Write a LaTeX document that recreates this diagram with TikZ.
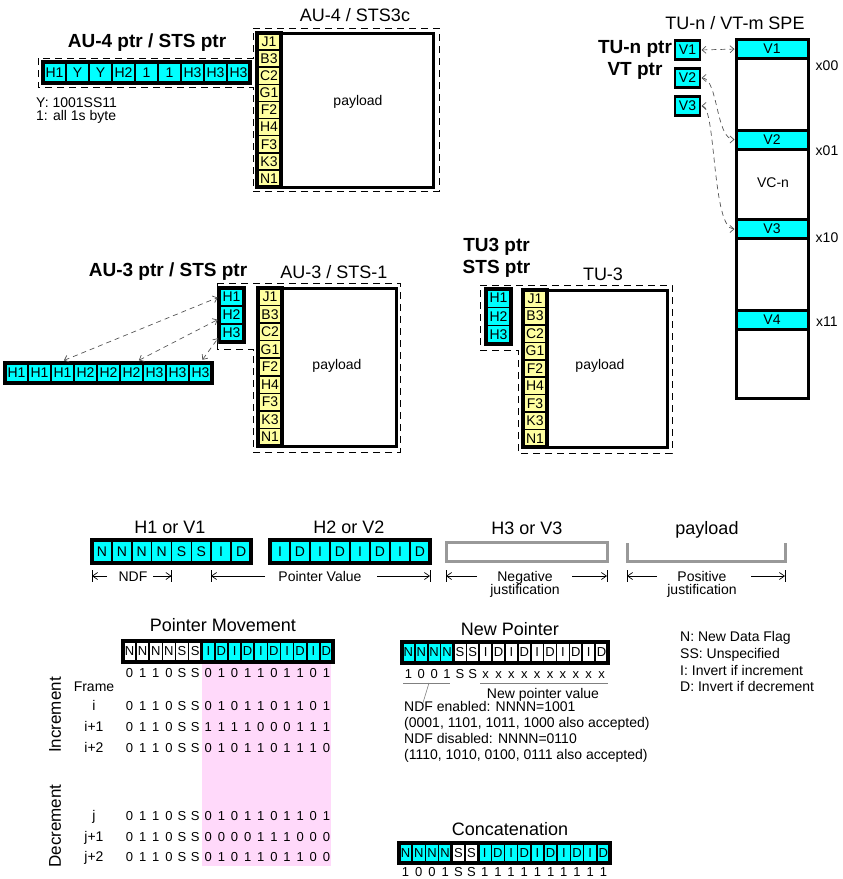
\documentclass[tikz,border=0pt]{standalone}
\usepackage{fontspec}
\setmainfont{Liberation Sans}
\usetikzlibrary{positioning,arrows.meta,calc}

\definecolor{ptrcyan}{RGB}{0,255,255}
\definecolor{ohyellow}{RGB}{255,255,160}
\definecolor{movepink}{RGB}{255,217,250}
\definecolor{justgray}{RGB}{153,153,153}
\definecolor{linkgray}{RGB}{85,85,85}

\newcommand{\ttlfont}{\fontsize{18}{21}\selectfont}
\newcommand{\bttlfont}{\fontsize{19}{21.5}\selectfont\bfseries}
\newcommand{\labfont}{\fontsize{14}{16}\selectfont}
\newcommand{\bitsfont}{\fontsize{13}{14}\selectfont}
\newcommand{\dimfont}{\fontsize{14}{12.5}\selectfont\lineskiplimit=-20pt}
\newcommand{\rowsidefont}{\fontsize{17}{18}\selectfont}

% row of cells: #1 name, #2 left x, #3 middle y, #4 cell width, #5 cell height, #6 fill/label
\newcommand{\cellrow}[6]{%
  \foreach [count=\k] \cfill/\clabel in {#6}{
    \node[cell,fill=\cfill,minimum width=#4pt,minimum height=#5pt]
      (#1-\k) at ({#2+(\k-0.5)*#4},#3) {\clabel};
  }%
}
% column of cells: #1 name, #2 middle x, #3 top y, #4 cell width, #5 cell height, #6 fill/label
\newcommand{\cellcol}[6]{%
  \foreach [count=\k] \cfill/\clabel in {#6}{
    \node[cell,fill=\cfill,minimum width=#4pt,minimum height=#5pt]
      (#1-\k) at (#2,{#3+(\k-0.5)*#5}) {\clabel};
  }%
}
% bits under a row of cells: #1 name, #2 left x, #3 cell width, #4 baseline y, #5 bits
\newcommand{\bitrow}[5]{%
  \foreach [count=\k] \clabel in {#5}{
    \node[bit] (#1-\k) at ({#2+(\k-0.5)*#3},#4) {\clabel};
  }%
}

\begin{document}
\begin{tikzpicture}[
  x=1pt,y=-1pt,
  every node/.style={font=\labfont,inner sep=0pt},
  cell/.style={draw=black,line width=1.6pt,outer sep=0pt,font=\labfont},
  bit/.style={anchor=base,font=\bitsfont},
  outerline/.style={draw=black,line width=3.2pt},
  plbox/.style={draw=black,line width=3pt,outer sep=0pt,anchor=north west},
  ttl/.style={anchor=base,font=\ttlfont},
  boldttl/.style={anchor=base,font=\bttlfont,align=center},
  frameline/.style={line width=1pt,dash pattern=on 7pt off 5pt},
  linkarrow/.style={linkgray,line width=0.7pt,dash pattern=on 5pt off 4pt,
    shorten <=1.5pt,shorten >=1.5pt,
    {Straight Barb[length=4pt,width=7pt]}-{Straight Barb[length=4pt,width=7pt]}},
  dimarrow/.style={line width=0.7pt,-{Straight Barb[length=5pt,width=7pt]}},
  dimtick/.style={line width=0.8pt},
  justline/.style={justgray,line width=3pt},
  thinline/.style={gray,line width=0.6pt}
]
\useasboundingbox (0,0) rectangle (843,879);

% ---------------- AU-4 / STS3c ----------------
\draw[frameline] (253,28) -- (439,28) -- (439,191) -- (253,191) -- (253,87)
  -- (38,87) -- (38,58) -- (253,58) -- cycle;
\node[boldttl] (au4ptrttl) at (147,47) {AU-4 ptr / STS ptr};
\cellrow{au4p}{43}{72.5}{23}{21}{ptrcyan/H1,ptrcyan/Y,ptrcyan/Y,ptrcyan/H2,ptrcyan/1,ptrcyan/1,ptrcyan/H3,ptrcyan/H3,ptrcyan/H3}
\draw[outerline] (au4p-1.north west) rectangle (au4p-9.south east);
\node[anchor=base west] (au4ykey) at (36,107) {Y: 1001SS11};
\node[anchor=base west] (au4onekey) at (36,120) {1: all 1s byte};

\node[ttl] (au4ttl) at (355,21) {AU-4 / STS3c};
\cellcol{au4oh}{269}{33}{24}{17.11}{ohyellow/J1,ohyellow/B3,ohyellow/C2,ohyellow/G1,ohyellow/F2,ohyellow/H4,ohyellow/F3,ohyellow/K3,ohyellow/N1}
\draw[outerline] (au4oh-1.north west) rectangle (au4oh-9.south east);
\node[plbox,minimum width=152pt,minimum height=154pt] (au4pl) at (au4oh-1.north east) {};
\node[anchor=base] (au4pltxt) at (358,105) {payload};

% ---------------- TU-n / VT-m SPE ----------------
\node[ttl] (spettl) at (735,29) {TU-n / VT-m SPE};
\node[boldttl] (tunptr) at (635,75) {TU-n ptr\\VT ptr};
\foreach \k/\yy in {1/50,2/78,3/106}
  \node[cell,fill=ptrcyan,line width=2.6pt,minimum width=25pt,minimum height=19pt]
    (vs\k) at (687.5,\yy) {V\k};
\node[plbox,minimum width=72pt,minimum height=359pt] (spe) at (736,39) {};
\foreach \k/\yy in {1/49,2/139.5,3/229,4/319.5}
  \node[cell,fill=ptrcyan,line width=3pt,minimum width=72pt,minimum height=19pt]
    (vb\k) at (772,\yy) {V\k};
\node[anchor=base] (vcn) at (773,187) {VC-n};
\foreach \k/\lbl/\yy in {1/x00/70,2/x01/155,3/x10/242,4/x11/326}
  \node[anchor=base] (off\k) at (827,\yy) {\lbl};
\draw[linkarrow] (vs1.east) -- (vb1.west);
\draw[linkarrow] (vs2.east) .. controls +(18,0) and +(-20,0) .. (vb2.west);
\draw[linkarrow] (vs3.east) .. controls +(16,0) and +(-24,0) .. (vb3.west);

% ---------------- AU-3 / STS-1 ----------------
\draw[frameline] (217,283) -- (400,283) -- (400,452) -- (253,452) -- (253,349)
  -- (217,349) -- cycle;
\node[boldttl] (au3ptrttl) at (168,276) {AU-3 ptr / STS ptr};
\node[ttl] (au3ttl) at (334,278) {AU-3 / STS-1};
\cellcol{au3p}{231.5}{288}{25}{18}{ptrcyan/H1,ptrcyan/H2,ptrcyan/H3}
\draw[outerline] (au3p-1.north west) rectangle (au3p-3.south east);
\cellcol{au3oh}{270}{288}{24}{17.55}{ohyellow/J1,ohyellow/B3,ohyellow/C2,ohyellow/G1,ohyellow/F2,ohyellow/H4,ohyellow/F3,ohyellow/K3,ohyellow/N1}
\draw[outerline] (au3oh-1.north west) rectangle (au3oh-9.south east);
\node[plbox,minimum width=114pt,minimum height=158pt] (au3pl) at (au3oh-1.north east) {};
\node[anchor=base] (au3pltxt) at (337,369) {payload};
\cellrow{au3r}{5}{373}{23}{20}{ptrcyan/H1,ptrcyan/H1,ptrcyan/H1,ptrcyan/H2,ptrcyan/H2,ptrcyan/H2,ptrcyan/H3,ptrcyan/H3,ptrcyan/H3}
\draw[outerline] (au3r-1.north west) rectangle (au3r-9.south east);
\draw[linkarrow] ([yshift=2pt]au3r-3.north) -- (au3p-1.west);
\draw[linkarrow] ([xshift=6pt,yshift=2pt]au3r-6.north) -- ([yshift=-4pt]au3p-2.west);
\draw[linkarrow] ([xshift=1pt,yshift=2pt]au3r-9.north) -- ([yshift=-4pt]au3p-3.west);

% ---------------- TU-3 ----------------
\draw[frameline] (480,285) -- (672,285) -- (672,453) -- (518,453) -- (518,350)
  -- (480,350) -- cycle;
\node[boldttl] (tu3ptr) at (496.5,273) {TU3 ptr\\STS ptr};
\node[ttl] (tu3ttl) at (603,280) {TU-3};
\cellcol{tu3p}{498.5}{289}{25}{18.33}{ptrcyan/H1,ptrcyan/H2,ptrcyan/H3}
\draw[outerline] (tu3p-1.north west) rectangle (tu3p-3.south east);
\cellcol{tu3oh}{535}{290}{24}{17.44}{ohyellow/J1,ohyellow/B3,ohyellow/C2,ohyellow/G1,ohyellow/F2,ohyellow/H4,ohyellow/F3,ohyellow/K3,ohyellow/N1}
\draw[outerline] (tu3oh-1.north west) rectangle (tu3oh-9.south east);
\node[plbox,minimum width=120pt,minimum height=157pt] (tu3pl) at (tu3oh-1.north east) {};
\node[anchor=base] (tu3pltxt) at (600,369) {payload};

% ---------------- pointer bytes ----------------
\node[ttl] (h1ttl) at (170,533) {H1 or V1};
\node[ttl] (h2ttl) at (349,533) {H2 or V2};
\node[ttl] (h3ttl) at (527,534) {H3 or V3};
\node[ttl] (plttl) at (707,534) {payload};
\cellrow{h1b}{92}{551.5}{19.875}{23}{ptrcyan/N,ptrcyan/N,ptrcyan/N,ptrcyan/N,ptrcyan/S,ptrcyan/S,ptrcyan/I,ptrcyan/D}
\draw[outerline] (h1b-1.north west) rectangle (h1b-8.south east);
\cellrow{h2b}{270}{551.5}{20}{23}{ptrcyan/I,ptrcyan/D,ptrcyan/I,ptrcyan/D,ptrcyan/I,ptrcyan/D,ptrcyan/I,ptrcyan/D}
\draw[outerline] (h2b-1.north west) rectangle (h2b-8.south east);
\node[draw=justgray,line width=3pt,minimum width=161pt,minimum height=19pt] (h3b) at (526.5,551.5) {};
\draw[justline] (627,543) -- (627,561) -- (785,561) -- (785,543);

% dimension lines
\foreach \nm/\xl/\xr/\xil/\xir in {ndf/92/171.5/107/153, pv/211/430/265/377,
    neg/446/607/477/572, pos/627/785/657/751}{
  \coordinate (\nm L) at (\xl,576);
  \coordinate (\nm R) at (\xr,576);
  \coordinate (\nm Li) at (\xil,576);
  \coordinate (\nm Ri) at (\xir,576);
  \draw[dimtick] ([yshift=6pt]\nm L) -- ([yshift=-6pt]\nm L);
  \draw[dimtick] ([yshift=6pt]\nm R) -- ([yshift=-6pt]\nm R);
  \draw[dimarrow] (\nm Li) -- (\nm L);
  \draw[dimarrow] (\nm Ri) -- (\nm R);
}
\node[anchor=base] (ndftxt) at (133,581) {NDF};
\node[anchor=base] (pvtxt) at (320,581) {Pointer Value};
\node[anchor=north,align=center,font=\dimfont] (negtxt) at (525,571.5) {Negative\\justification};
\node[anchor=north,align=center,font=\dimfont] (postxt) at (702,571.5) {Positive\\justification};

% ---------------- Pointer Movement ----------------
\node[ttl] (pmttl) at (223,631) {Pointer Movement};
\fill[movepink] (201.75,662) rectangle (331,866);
\begin{scope}[cell/.append style={font=\bitsfont}]
\cellrow{pmh}{123}{651.5}{13.125}{21}{white/N,white/N,white/N,white/N,white/S,white/S,ptrcyan/I,ptrcyan/D,ptrcyan/I,ptrcyan/D,ptrcyan/I,ptrcyan/D,ptrcyan/I,ptrcyan/D,ptrcyan/I,ptrcyan/D}
\end{scope}
\draw[outerline] (pmh-7.north west) rectangle (pmh-16.south east);
\draw[outerline] (pmh-1.north west) rectangle (pmh-16.south east);
\bitrow{pm0}{123}{13.125}{677}{0,1,1,0,S,S,0,1,0,1,1,0,1,1,0,1}
\bitrow{pmi}{123}{13.125}{710}{0,1,1,0,S,S,0,1,0,1,1,0,1,1,0,1}
\bitrow{pmip}{123}{13.125}{731.5}{0,1,1,0,S,S,1,1,1,1,0,0,0,1,1,1}
\bitrow{pmipp}{123}{13.125}{752.5}{0,1,1,0,S,S,0,1,0,1,1,0,1,1,1,0}
\bitrow{pmj}{123}{13.125}{820}{0,1,1,0,S,S,0,1,0,1,1,0,1,1,0,1}
\bitrow{pmjp}{123}{13.125}{841}{0,1,1,0,S,S,0,0,0,0,1,1,1,0,0,0}
\bitrow{pmjpp}{123}{13.125}{861.5}{0,1,1,0,S,S,0,1,0,1,1,0,1,1,0,0}
\foreach \nm/\yy/\lbl in {fr/691/Frame, ri/710/i, rip/731.5/i+1, ripp/752.5/i+2,
    rj/820/j, rjp/841/j+1, rjpp/861.5/j+2}
  \node[anchor=base] (\nm) at (94,\yy) {\lbl};
\node[rotate=90,font=\rowsidefont] (incr) at (55,715) {Increment};
\node[rotate=90,font=\rowsidefont] (decr) at (55,826) {Decrement};

% ---------------- New Pointer ----------------
\node[ttl] (npttl) at (510,635) {New Pointer};
\begin{scope}[cell/.append style={font=\bitsfont}]
\cellrow{np}{402}{652.5}{12.875}{21}{ptrcyan/N,ptrcyan/N,ptrcyan/N,ptrcyan/N,white/S,white/S,white/I,white/D,white/I,white/D,white/I,white/D,white/I,white/D,white/I,white/D}
\end{scope}
\draw[outerline] (np-1.north west) rectangle (np-4.south east);
\draw[outerline] (np-1.north west) rectangle (np-16.south east);
\bitrow{npb}{402}{12.875}{678}{1,0,0,1,S,S,x,x,x,x,x,x,x,x,x,x}
\draw[thinline] (403,683) -- (450,683);
\draw[thinline] (429,683) -- (422,706);
\draw[thinline] (480,683) -- (608,683);
\node[anchor=base] (npval) at (543,698) {New pointer value};
\node[anchor=base west] (ndfen) at (404,711.5) {NDF enabled: NNNN=1001};
\node[anchor=base west] (ndfenalt) at (404,727) {(0001, 1101, 1011, 1000 also accepted)};
\node[anchor=base west] (ndfdis) at (404,743) {NDF disabled: NNNN=0110};
\node[anchor=base west] (ndfdisalt) at (404,759) {(1110, 1010, 0100, 0111 also accepted)};

% ---------------- legend ----------------
\foreach \k/\yy/\lbl in {1/641.7/N: New Data Flag, 2/658.4/SS: Unspecified,
    3/675/I: Invert if increment, 4/691.7/D: Invert if decrement}
  \node[anchor=base west] (key\k) at (680,\yy) {\lbl};

% ---------------- Concatenation ----------------
\node[ttl] (catttl) at (510,835) {Concatenation};
\begin{scope}[cell/.append style={font=\bitsfont}]
\cellrow{cat}{399}{853}{13.1875}{20}{ptrcyan/N,ptrcyan/N,ptrcyan/N,ptrcyan/N,white/S,white/S,ptrcyan/I,ptrcyan/D,ptrcyan/I,ptrcyan/D,ptrcyan/I,ptrcyan/D,ptrcyan/I,ptrcyan/D,ptrcyan/I,ptrcyan/D}
\end{scope}
\draw[outerline] (cat-1.north west) rectangle (cat-4.south east);
\draw[outerline] (cat-7.north west) rectangle (cat-16.south east);
\draw[outerline] (cat-1.north west) rectangle (cat-16.south east);
\bitrow{catb}{399}{13.1875}{876.5}{1,0,0,1,S,S,1,1,1,1,1,1,1,1,1,1}

\end{tikzpicture}
\end{document}
